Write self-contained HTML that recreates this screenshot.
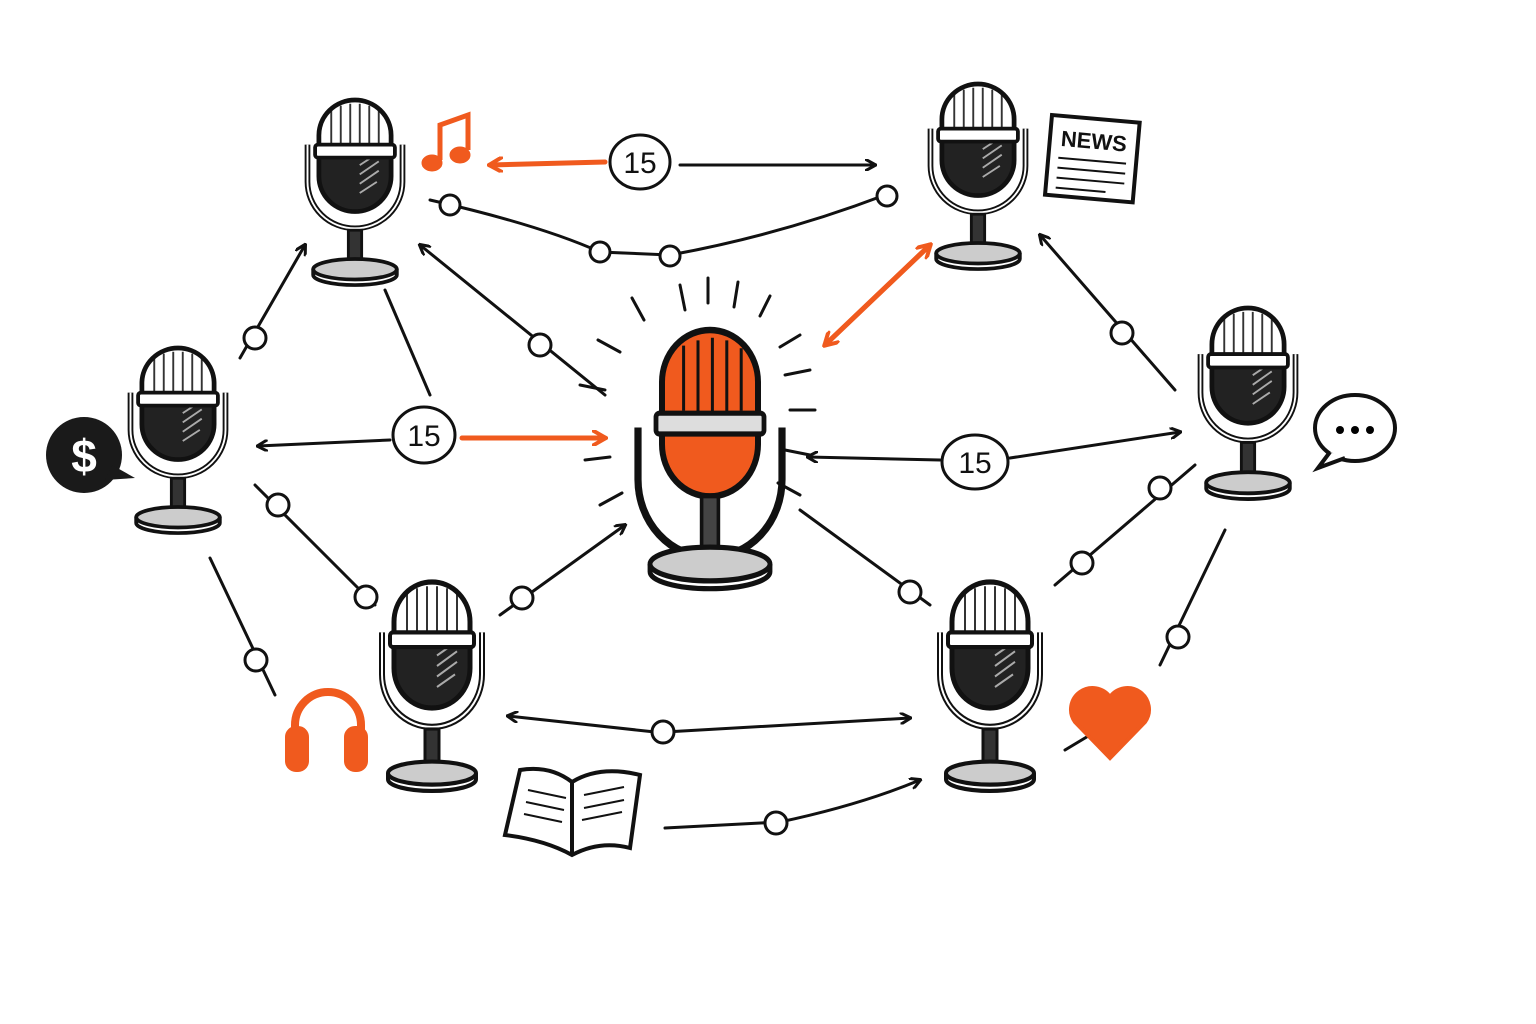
<!DOCTYPE html>
<html><head><meta charset="utf-8"><style>body{margin:0;background:#fff}svg{display:block}</style></head>
<body>
<svg width="1536" height="1024" viewBox="0 0 1536 1024" xmlns="http://www.w3.org/2000/svg">
<defs>
<clipPath id="hc"><rect x="-38" y="0" width="76" height="120" rx="38"/></clipPath>
<marker id="ab" markerWidth="12" markerHeight="12" refX="10" refY="6" orient="auto" markerUnits="userSpaceOnUse"><path d="M0,0 L11,6 L0,12" fill="none" stroke="#111" stroke-width="3"/></marker>
<marker id="ao" markerWidth="16" markerHeight="16" refX="13" refY="8" orient="auto" markerUnits="userSpaceOnUse"><path d="M0,0 L14,8 L0,16" fill="none" stroke="#f05a1e" stroke-width="4"/></marker>
<g id="mic">
<path d="M-50,48 v40 a50,50 0 0 0 100,0 v-40" fill="none" stroke="#111" stroke-width="6"/>
<path d="M-50,48 v40 a50,50 0 0 0 100,0 v-40" fill="none" stroke="#fff" stroke-width="2"/>
<rect x="-38" y="0" width="76" height="120" rx="38" fill="#fff"/>
<g clip-path="url(#hc)">
<rect x="-40" y="58" width="80" height="70" fill="#222"/>
<path d="M-25,10v40M-15,6v44M-5,4v46M5,4v46M15,6v44M25,10v40" stroke="#333" stroke-width="2"/>
<path d="M5,70 l18,-12 M5,80 l20,-14 M5,90 l20,-14 M5,100 l18,-12" stroke="#aaa" stroke-width="2"/>
</g>
<rect x="-38" y="0" width="76" height="120" rx="38" fill="none" stroke="#111" stroke-width="5"/>
<rect x="-42" y="48" width="84" height="14" rx="3" fill="#fff" stroke="#111" stroke-width="4"/>
<rect x="-7" y="140" width="14" height="38" fill="#333" stroke="#111" stroke-width="3"/>
<ellipse cx="0" cy="182" rx="44" ry="11" fill="#ccc" stroke="#111" stroke-width="4"/>
<path d="M-44,182 v6 a44,11 0 0 0 88,0 v-6" fill="none" stroke="#111" stroke-width="4"/>
</g>
</defs>

<g fill="none" stroke="#111" stroke-width="3" stroke-linecap="round">
<!-- top connections -->
<path d="M680,165 L875,165" marker-end="url(#ab)"/>
<path d="M430,200 Q540,225 600,252 L670,255 Q780,235 885,195"/>
<path d="M240,358 L305,245" marker-end="url(#ab)"/>
<path d="M385,290 L430,395"/>
<path d="M605,395 L420,245" marker-end="url(#ab)"/>
<path d="M390,440 L258,446" marker-end="url(#ab)"/>
<path d="M1175,390 L1040,235" marker-end="url(#ab)"/>
<path d="M1010,458 L1180,432" marker-end="url(#ab)"/>
<path d="M940,460 L808,457" marker-end="url(#ab)"/>
<path d="M255,485 L375,605"/>
<path d="M500,615 L625,525" marker-end="url(#ab)"/>
<path d="M800,510 L930,605"/>
<path d="M1195,465 L1055,585"/>
<path d="M1225,530 L1160,665"/>
<path d="M210,558 L275,695"/>
<path d="M665,732 L910,718" marker-end="url(#ab)"/>
<path d="M655,732 L508,716" marker-end="url(#ab)"/>
<path d="M665,828 L780,822 Q860,805 920,780" marker-end="url(#ab)"/>
<path d="M1065,750 L1090,735"/>
</g>
<g fill="none" stroke="#f05a1e" stroke-width="5" stroke-linecap="round">
<path d="M605,162 L490,165" marker-end="url(#ao)"/>
<path d="M462,438 L605,438" marker-end="url(#ao)"/>
<path d="M825,345 L930,245" marker-end="url(#ao)"/>
<path d="M930,245 L825,345" marker-end="url(#ao)"/>
</g>
<!-- rays -->
<g stroke="#111" stroke-width="3" stroke-linecap="round">
<path d="M632,298l12,22M680,285l5,25M708,278l0,25M738,282l-4,25M770,296l-10,20M598,340l22,12M580,385l25,5M800,335l-20,12M810,370l-25,5M815,410l-25,0M810,455l-25,-5M800,495l-22,-12M600,505l22,-12M585,460l25,-3"/>
</g>
<!-- small circles -->
<g fill="#fff" stroke="#111" stroke-width="3">
<circle cx="450" cy="205" r="10"/><circle cx="600" cy="252" r="10"/><circle cx="670" cy="256" r="10"/><circle cx="887" cy="196" r="10"/>
<circle cx="255" cy="338" r="11"/><circle cx="540" cy="345" r="11"/><circle cx="1122" cy="333" r="11"/>
<circle cx="278" cy="505" r="11"/><circle cx="366" cy="597" r="11"/><circle cx="522" cy="598" r="11"/><circle cx="910" cy="592" r="11"/>
<circle cx="1160" cy="488" r="11"/><circle cx="1082" cy="563" r="11"/><circle cx="1178" cy="637" r="11"/><circle cx="256" cy="660" r="11"/>
<circle cx="663" cy="732" r="11"/><circle cx="776" cy="823" r="11"/>
</g>
<!-- 15 labels -->
<g fill="#fff" stroke="#111" stroke-width="3">
<ellipse cx="640" cy="162" rx="30" ry="27"/><ellipse cx="424" cy="435" rx="31" ry="28"/><ellipse cx="975" cy="462" rx="33" ry="27"/>
</g>
<g font-family="Liberation Sans, sans-serif" font-size="30" text-anchor="middle" fill="#111">
<text x="640" y="173">15</text><text x="424" y="446">15</text><text x="975" y="473">15</text>
</g>

<!-- mics -->
<use href="#mic" transform="translate(355,100) scale(0.95,0.93)"/>
<use href="#mic" transform="translate(978,84) scale(0.95,0.93)"/>
<use href="#mic" transform="translate(178,348) scale(0.95,0.93)"/>
<use href="#mic" transform="translate(1248,308) scale(0.95,0.96)"/>
<use href="#mic" transform="translate(432,582) scale(1,1.05)"/>
<use href="#mic" transform="translate(990,582) scale(1,1.05)"/>
<!-- center orange mic -->
<g transform="translate(710,330) scale(1.2,1.3)">
<path d="M-60,75 v40 a60,60 0 0 0 120,0 v-40" fill="none" stroke="#111" stroke-width="6"/>
<rect x="-40" y="0" width="80" height="128" rx="40" fill="#f05a1e" stroke="#111" stroke-width="5"/>
<path d="M-22,12v50M-10,8v56M2,6v58M14,8v56M26,14v48" stroke="#111" stroke-width="2.5"/>
<rect x="-45" y="64" width="90" height="16" rx="3" fill="#ddd" stroke="#111" stroke-width="4"/>
<rect x="-7" y="128" width="14" height="48" fill="#444" stroke="#111" stroke-width="3"/>
<ellipse cx="0" cy="180" rx="50" ry="13" fill="#ccc" stroke="#111" stroke-width="4"/>
<path d="M-50,180 v6 a50,13 0 0 0 100,0 v-6" fill="none" stroke="#111" stroke-width="4"/>
</g>

<!-- icons -->
<g fill="#f05a1e" stroke="#f05a1e">
<path d="M440,160 V125 L468,115 V150" fill="none" stroke-width="5"/>
<ellipse cx="432" cy="163" rx="10" ry="8"/><ellipse cx="460" cy="155" rx="10" ry="8"/>
</g>
<g transform="translate(1052,115) rotate(5)">
<rect x="0" y="0" width="88" height="80" fill="#fff" stroke="#111" stroke-width="4"/>
<text x="44" y="30" font-family="Liberation Sans, sans-serif" font-weight="bold" font-size="22" text-anchor="middle" fill="#111">NEWS</text>
<path d="M10,42h68M10,52h68M10,62h68M10,72h50" stroke="#111" stroke-width="2"/>
</g>
<g>
<circle cx="84" cy="455" r="38" fill="#1a1a1a"/><path d="M105,480 L135,478 L112,465Z" fill="#1a1a1a"/>
<text x="84" y="472" font-family="Liberation Sans, sans-serif" font-weight="bold" font-size="46" text-anchor="middle" fill="#fff">$</text>
</g>
<g>
<ellipse cx="1355" cy="428" rx="40" ry="33" fill="#fff" stroke="#111" stroke-width="4"/>
<path d="M1330,452 L1318,468 L1345,458" fill="#fff" stroke="#111" stroke-width="4"/>
<circle cx="1340" cy="430" r="4"/><circle cx="1355" cy="430" r="4"/><circle cx="1370" cy="430" r="4"/>
</g>
<g fill="none" stroke="#f05a1e" stroke-width="8">
<path d="M295,745 v-20 a33,33 0 0 1 66,0 v20"/>
<rect x="289" y="730" width="16" height="38" rx="7" fill="#f05a1e"/>
<rect x="348" y="730" width="16" height="38" rx="7" fill="#f05a1e"/>
</g>
<path d="M1110,758 L1075,722 a20,20 0 0 1 35,-25 a20,20 0 0 1 35,25 Z" fill="#f05a1e" stroke="#f05a1e" stroke-width="4"/>
<g stroke="#111" stroke-width="4" fill="#fff">
<path d="M505,835 L520,770 Q550,765 572,782 Q600,765 640,775 L630,848 Q600,840 572,855 Q545,840 505,835Z"/>
<path d="M572,782 L572,855" />
<path d="M528,790l38,8M526,802l38,8M524,814l38,8M584,795l40,-8M584,808l40,-8M582,820l40,-8" stroke-width="2"/>
</g>
</svg>
</body></html>
